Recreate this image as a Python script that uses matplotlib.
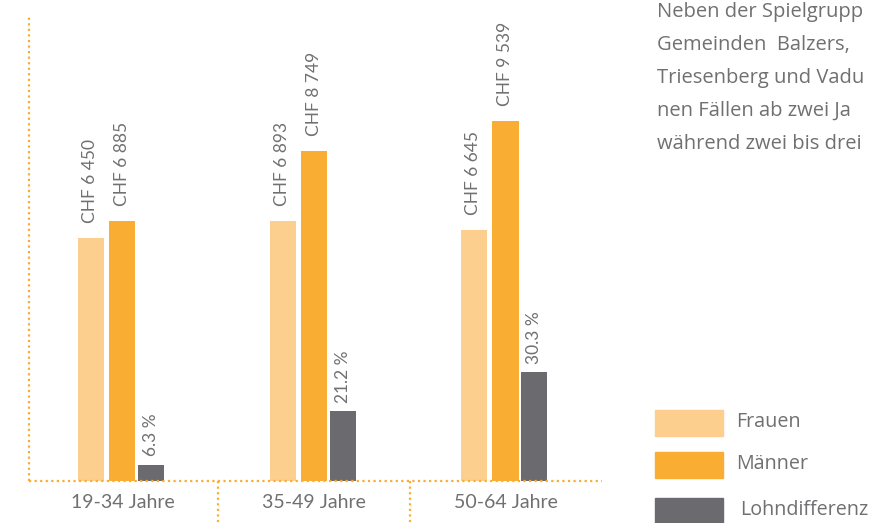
import numpy as np
import matplotlib.pyplot as plt
from matplotlib.patches import Rectangle

# Daten
kategorien = ["19-34 Jahre", "35-49 Jahre", "50-64 Jahre"]
frauen = [6450, 6893, 6645]
maenner = [6885, 8749, 9539]
lohndiff_pct = [6.3, 21.2, 30.3]
serien = ["Frauen", "Männer", "Lohndifferenz"]
farben = ["#fccf8e", "#f9ae33", "#6b6b6f"]

# sichtbarer Ausschnitt des Fliesstexts rechts
textzeilen = [
    "Neben der Spielgrupp",
    "Gemeinden  Balzers,",
    "Triesenberg und Vadu",
    "nen Fällen ab zwei Ja",
    "während zwei bis drei",
]

grau = "#707073"
orange = "#f9ae33"
plt.rcParams['font.family'] = ['Lato', 'DejaVu Sans']

# Lohndifferenz in CHF (Männer - Frauen), beschriftet in Prozent
diff = np.array(maenner) - np.array(frauen)

fig = plt.figure(figsize=(8.72, 5.23), dpi=100)
W, H = 872, 523
ax = fig.add_axes([29 / W, (H - 481) / H, (602 - 29) / W, (481 - 15) / H])

x = np.arange(len(kategorien))
breite = 0.136
ax.bar(x - 0.162, frauen, breite, color=farben[0], label=serien[0])
ax.bar(x, maenner, breite, color=farben[1], label=serien[1])
ax.bar(x + 0.151, diff, breite, color=farben[2], label=serien[2])

# Beschriftungen
for i in range(len(kategorien)):
    ax.annotate("CHF " + f"{frauen[i]:,}".replace(",", " "), (x[i] - 0.162, frauen[i]),
                xytext=(-1, 11), textcoords="offset points", rotation=90,
                ha="center", va="bottom", fontsize=12.5, color=grau)
    ax.annotate("CHF " + f"{maenner[i]:,}".replace(",", " "), (x[i], maenner[i]),
                xytext=(0, 11), textcoords="offset points", rotation=90,
                ha="center", va="bottom", fontsize=12.5, color=grau)
    ax.annotate(f"{lohndiff_pct[i]} %", (x[i] + 0.151, diff[i]),
                xytext=(0, 6), textcoords="offset points", rotation=90,
                ha="center", va="bottom", fontsize=12.5, color=grau)

ax.set_xlim(-0.488, 2.504)
ax.set_ylim(0, 12360)

# gepunktete Linien
punkt = dict(color=orange, linewidth=1.6, linestyle=(0, (1, 1.5)))
ax.axhline(0, **punkt, clip_on=False)
ax.axvline(-0.488, **punkt, clip_on=False)
for sx in [0.5, 1.5]:
    ax.plot([sx, sx], [0, -0.1], transform=ax.get_xaxis_transform(),
            clip_on=False, **punkt)

for s in ax.spines.values():
    s.set_visible(False)
ax.set_yticks([])
ax.set_xticks(x)
ax.set_xticklabels(kategorien, fontsize=14, color=grau)
ax.tick_params(axis="x", length=0, pad=9)

# Fliesstext rechts
for j, zeile in enumerate(textzeilen):
    fig.text(657 / W, 1 - (12 + 33 * j) / H, zeile, fontsize=14.5,
             family=['Open Sans', 'DejaVu Sans'], color=grau, ha="left", va="center")

# Legende
leg_y = [410, 452, 498]
leg_tx = [736, 736, 740]
for name, farbe, y0, tx in zip(serien, farben, leg_y, leg_tx):
    fig.patches.append(Rectangle((655 / W, 1 - (y0 + 26) / H), 68 / W, 26 / H,
                                 transform=fig.transFigure, color=farbe))
    fig.text(tx / W, 1 - (y0 + 12) / H, name, fontsize=14.2,
             family=['Open Sans', 'DejaVu Sans'], color=grau, ha="left", va="center")

fig.savefig("out.png", dpi=100)
